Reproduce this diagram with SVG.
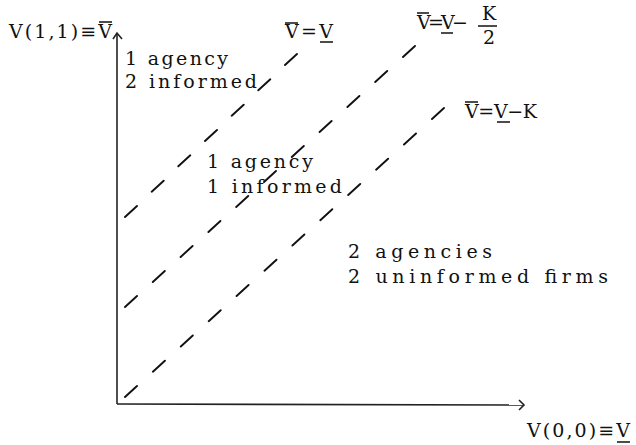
<svg xmlns="http://www.w3.org/2000/svg" width="636" height="445" viewBox="0 0 636 445">
<style>
  .t { font-family: "DejaVu Serif", "Liberation Serif", serif; font-size: 19px; fill: #111; }
  .ax { stroke: #222; stroke-width: 1.6; fill: none; }
  .ds { stroke: #111; stroke-width: 1.9; fill: none; stroke-linecap: round; }
  .bar { stroke: #111; stroke-width: 1.5; }
</style>
<rect width="636" height="445" fill="#fff"/>
<g id="axes">
  <line class="ax" x1="117" y1="404" x2="117" y2="33"/>
  <polyline class="ax" points="113,39 117,33 122,39"/>
  <line class="ax" x1="117" y1="404" x2="523" y2="405"/>
  <polyline class="ax" points="519,400 524,405 519,410"/>
</g>
<g id="connectors">
  <path id="line-top" class="ds" d="M125,217 l12,-11 M151.7,191.7 l12,-11 M178.3,166.3 l12,-11 M205,141 l12,-11 M231.7,115.7 l12,-11 M258.3,90.3 l12,-11 M285,65 l12,-11"/>
  <path id="line-mid" class="ds" d="M125,307 l12,-11 M152.8,282 l12,-11 M180.6,257 l12,-11 M208.4,232 l12,-11 M236.2,207 l12,-11 M264,182 l12,-11 M291.8,157 l12,-11 M319.6,132 l12,-11 M347.4,107 l12,-11 M375.2,82 l12,-11 M403,57 l12,-11"/>
  <path id="line-bot" class="ds" d="M125,397 l12,-11 M152.9,371.7 l12,-11 M180.8,346.5 l12,-11 M208.7,321.2 l12,-11 M236.6,296 l12,-11 M264.5,270.7 l12,-11 M292.4,245.5 l12,-11 M320.3,220.2 l12,-11 M348.2,195 l12,-11 M376.1,169.7 l12,-11 M404,144.5 l12,-11 M432,119 l12,-11"/>
</g>
<g id="y-axis-label">
  <text class="t" x="9" y="38" textLength="103" lengthAdjust="spacing">V(1,1)≡V</text>
  <line class="bar" x1="99" y1="22" x2="112" y2="22"/>
</g>
<g id="x-axis-label">
  <text class="t" x="527" y="437" textLength="103" lengthAdjust="spacing">V(0,0)≡V</text>
  <line class="bar" x1="617" y1="442" x2="630" y2="442"/>
</g>
<g id="region-top">
  <text class="t" x="125" y="65" textLength="103" lengthAdjust="spacing">1 agency</text>
  <text class="t" x="125" y="88" textLength="132" lengthAdjust="spacing">2 informed</text>
</g>
<g id="region-mid">
  <text class="t" x="207" y="168" textLength="106" lengthAdjust="spacing">1 agency</text>
  <text class="t" x="207" y="193" textLength="135" lengthAdjust="spacing">1 informed</text>
</g>
<g id="region-bot">
  <text class="t" x="348" y="258" textLength="144" lengthAdjust="spacing">2 agencies</text>
  <text class="t" x="348" y="283" textLength="260" lengthAdjust="spacing">2 uninformed firms</text>
</g>
<g id="label-top">
  <text class="t" x="285" y="38" textLength="48" lengthAdjust="spacing">V=V</text>
  <line class="bar" x1="285" y1="23" x2="298" y2="23"/>
  <line class="bar" x1="320" y1="42" x2="333" y2="42"/>
</g>
<g id="label-mid">
  <text class="t" x="417" y="29" textLength="51" lengthAdjust="spacing">V=V−</text>
  <line class="bar" x1="417" y1="13" x2="429" y2="13"/>
  <line class="bar" x1="441" y1="33" x2="453" y2="33"/>
  <text class="t" x="482" y="20">K</text>
  <line class="bar" x1="478" y1="26" x2="497" y2="26"/>
  <text class="t" x="483" y="44">2</text>
</g>
<g id="label-bot">
  <text class="t" x="465" y="118" textLength="72" lengthAdjust="spacing">V=V−K</text>
  <line class="bar" x1="465" y1="102" x2="478" y2="102"/>
  <line class="bar" x1="497" y1="122" x2="510" y2="122"/>
</g>
</svg>
